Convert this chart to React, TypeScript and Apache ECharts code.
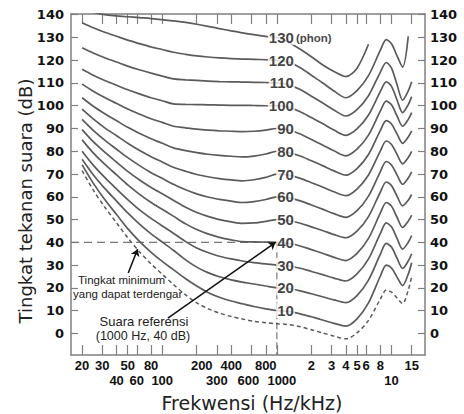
import React, { useEffect, useRef } from 'react';
import * as echarts from 'echarts';

// Frequency grid (Hz) shared by all contours
const FREQ_HZ = [20, 25, 31.5, 40, 50, 63, 80, 100, 125, 160, 200, 250, 315, 400, 500, 630, 800, 1000, 1250, 1600, 2000, 2500, 3150, 4000, 5000, 6300, 8000, 9000, 10000, 11200, 12500, 14000, 15000];

// Sound pressure level (dB) of each equal-loudness contour at FREQ_HZ
const THRESHOLD = [71.5, 63, 55.5, 48.5, 42, 36, 30.5, 26, 21.5, 16.9, 13.4, 10.9, 8.9, 7.4, 6.3, 5.3, 4.7, 4.2, 3.9, 2.9, 1.6, 0.2, -1.2, -2.4, 0.2, 5.7, 15.1, 19, 18.1, 15.5, 13.1, 19, 25];
const PHON_10 = [74, 66, 58.8, 52.2, 46, 40.5, 35.6, 31.6, 28, 24, 20.8, 18, 15.9, 14.2, 13, 11.8, 10.8, 10, 9.7, 8.6, 7.3, 5.9, 4.4, 3.2, 6.4, 13.4, 25.2, 30, 28.7, 24.6, 21, 26, 31];
const PHON_20 = [76.5, 69.7, 63.7, 58.1, 52.9, 48.1, 43.7, 40.1, 36.5, 32.3, 29.1, 26.7, 24.9, 23.5, 22.5, 21.7, 20.8, 20, 19.7, 18.7, 17.4, 16.1, 14.7, 13.5, 16.6, 23.4, 34.8, 39.5, 37.9, 32.9, 28.5, 31.8, 35];
const PHON_30 = [80, 73.9, 68.5, 63.4, 58.8, 54.4, 50.5, 47.2, 44, 40.3, 37.5, 35.5, 33.9, 32.7, 31.8, 31.1, 30.5, 30, 29.7, 28.6, 27.2, 25.8, 24.3, 23, 26.1, 32.7, 43.9, 48.5, 46.8, 41.6, 37, 40, 43];
const PHON_40 = [85, 79.3, 74.3, 69.6, 65.2, 61.2, 57.5, 54.5, 51.5, 48.1, 45.6, 43.7, 42.2, 41.1, 40.3, 40.2, 40.1, 40, 39.6, 38.4, 36.8, 35.2, 33.4, 32, 35.1, 41.7, 52.9, 57.5, 55.9, 50.9, 46.5, 49.3, 52];
const PHON_50 = [89.5, 84.2, 79.6, 75.2, 71.2, 67.5, 64.1, 61.3, 58.5, 55.4, 53.1, 51.4, 50, 49, 48.3, 48.5, 49.2, 50, 49.6, 48.4, 46.8, 45.2, 43.4, 42, 44.9, 51.3, 62.1, 66.5, 64.9, 60.2, 56, 58.5, 61];
const PHON_60 = [94, 89.2, 84.9, 80.9, 77.2, 73.8, 70.6, 68.1, 65.5, 63.1, 61.3, 59.9, 58.9, 58.1, 57.5, 57.9, 58.8, 60, 59.6, 58.2, 56.4, 54.6, 52.6, 51, 53.9, 60.3, 71.1, 75.5, 74, 69.5, 65.5, 68.3, 71];
const PHON_70 = [98.5, 94.2, 90.3, 86.8, 83.5, 80.4, 77.6, 75.3, 73, 71.2, 69.8, 68.8, 68, 67.4, 67, 67.5, 68.5, 70, 69.5, 68.1, 66.2, 64.3, 62.2, 60.5, 63.4, 69.6, 80.2, 84.5, 83, 78.5, 74.5, 77.3, 80];
const PHON_80 = [103.5, 99.8, 96.5, 93.4, 90.5, 87.9, 85.5, 83.5, 81.5, 80.3, 79.4, 78.7, 78.2, 77.8, 77.5, 77.9, 78.8, 80, 79.5, 77.9, 75.8, 73.7, 71.4, 69.5, 72.4, 78.6, 89.2, 93.5, 92, 87.5, 83.5, 86.3, 89];
const PHON_90 = [109.5, 106.4, 103.6, 101, 98.6, 96.4, 94.3, 92.7, 91, 90.3, 89.7, 89.3, 89, 88.8, 88.6, 88.8, 89.3, 90, 89.4, 87.6, 85.2, 82.8, 80.2, 78, 80.9, 87.1, 97.7, 102, 100.4, 95.4, 91, 94, 97];
const PHON_100 = [116, 113.4, 111.1, 109, 107, 105.2, 103.5, 102.2, 100.8, 100.6, 100.5, 100.4, 100.3, 100.2, 100.2, 100.1, 100, 100, 99.4, 97.4, 94.8, 92.2, 89.3, 87, 89.8, 95.9, 106.3, 110.5, 108.5, 102.4, 97, 100.5, 104];
const PHON_110 = [125.5, 123.2, 121.1, 119.2, 117.4, 115.8, 114.3, 113, 111.8, 111.4, 111.1, 110.8, 110.6, 110.5, 110.4, 110.3, 110.2, 110, 109.3, 107.1, 104.2, 101.3, 98.1, 95.5, 98.3, 104.4, 114.8, 119, 116.5, 109.1, 102.5, 106.5, 110.5];
const PHON_120 = [136.5, 134.3, 132.3, 130.5, 128.8, 127.3, 125.8, 124.7, 123.5, 122.6, 121.9, 121.4, 121, 120.7, 120.5, 120.4, 120.2, 120, 119.2, 116.7, 113.4, 110.1, 106.5, 103.5, 106.6, 113.2, 124.4, 129, 127.2, 121.8, 117, 130.5, null];
const PHON_130 = [null, 141, 140, 139.5, 139.1, 138.7, 138.3, 137.8, 137.3, 136.6, 135.8, 134.9, 133.9, 132.9, 132, 131.2, 130.5, 130, 128, 124.8, 121.5, 118, 115, 112.8, 116.5, 127, null, null, null, null, null, null, null];

const PHON_LEVELS = [10, 20, 30, 40, 50, 60, 70, 80, 90, 100, 110, 120, 130];
const CONTOURS = [PHON_10, PHON_20, PHON_30, PHON_40, PHON_50, PHON_60, PHON_70, PHON_80, PHON_90, PHON_100, PHON_110, PHON_120, PHON_130];

// Axis ticks and labels
const X_TICKS_HZ = [20, 30, 40, 50, 60, 80, 100, 200, 300, 400, 600, 800, 1000, 2000, 3000, 4000, 5000, 6000, 8000, 10000, 15000];
const X_LABELS_ROW1 = [20, 30, 50, 80, 200, 400, 800, 2000, 3000, 4000, 5000, 6000, 8000, 15000];
const X_LABELS_ROW2 = [40, 60, 100, 300, 600, 1000, 10000];
const Y_TICKS = [0, 10, 20, 30, 40, 50, 60, 70, 80, 90, 100, 110, 120, 130, 140];
const X_RANGE_HZ = [16, 19600];
const Y_RANGE_DB = [-9.5, 140.3];

// Reference point and annotation arrows (Hz, dB)
const REF_HZ = 1000;
const REF_DB = 40;
const REF_ARROW = [[112, 6.7], [975, 40]];
const MIN_ARROW = [[50.5, 26.5], [61, 37]];

const lg = (v: number) => Math.log10(v);

const fmtHz = (v: number) => {
  const hz = Math.round(Math.pow(10, v));
  if (hz >= 2000) return String(Math.round(hz / 1000));
  return String(hz);
};

const LINE = '#5b5b5b';
const FRAME = '#808080';
const TEXT = '#111';

export default function App() {
  const ref = useRef<HTMLDivElement>(null);

  useEffect(() => {
    const chart = echarts.init(ref.current!, null, { renderer: 'svg' });
    const series: any[] = [];

    series.push({
      type: 'line',
      data: [[lg(X_RANGE_HZ[0]), REF_DB], [lg(REF_HZ), REF_DB]],
      symbol: 'none',
      silent: true,
      z: 1,
      lineStyle: { color: '#777', width: 1.3, type: [8, 5] },
    });
    series.push({
      type: 'line',
      data: [[lg(REF_HZ), REF_DB], [lg(REF_HZ), Y_RANGE_DB[0]]],
      symbol: 'none',
      silent: true,
      z: 1,
      lineStyle: { color: '#777', width: 1.2, type: [7, 3] },
    });

    CONTOURS.forEach((c, i) => {
      const pts: any[] = [];
      FREQ_HZ.forEach((f, j) => {
        if (c[j] !== null) pts.push([lg(f), c[j]]);
      });
      series.push({
        type: 'line',
        name: PHON_LEVELS[i] + ' phon',
        data: pts,
        smooth: 0.3,
        symbol: 'none',
        z: 2,
        lineStyle: { color: LINE, width: 1.7 },
      });
    });

    series.push({
      type: 'line',
      name: 'threshold',
      data: FREQ_HZ.map((f, j) => [lg(f), THRESHOLD[j]]),
      smooth: 0.3,
      symbol: 'none',
      z: 2,
      lineStyle: { color: LINE, width: 1.5, type: [4, 3] },
    });

    const labelFont = 'Liberation Sans';
    series.push({
      type: 'scatter',
      symbolSize: 0,
      z: 5,
      silent: true,
      data: PHON_LEVELS.map((p) =>
        p === 130
          ? {
              value: [lg(REF_HZ), p],
              label: {
                align: 'left',
                offset: [-9, 0],
                backgroundColor: 'transparent',
                padding: 0,
                formatter: '{a|130}{b|(phon)}',
                rich: {
                  a: { fontFamily: labelFont, fontSize: 15, fontWeight: 'bold', color: TEXT, backgroundColor: '#fff', padding: [0, 1] },
                  b: { fontFamily: labelFont, fontSize: 11.5, color: TEXT, padding: [1, 0, 0, 1] },
                },
              },
            }
          : { value: [lg(REF_HZ), p] }
      ),
      label: {
        show: true,
        position: 'inside',
        align: 'right',
        verticalAlign: 'middle',
        offset: [18, 0],
        fontFamily: labelFont,
        fontSize: 15,
        fontWeight: 'bold',
        color: TEXT,
        backgroundColor: '#fff',
        padding: [0, 1],
        formatter: (p: any) => String(p.value[1]),
      },
    });

    series.push({
      type: 'lines',
      coordinateSystem: 'cartesian2d',
      z: 6,
      silent: true,
      symbol: ['none', 'arrow'],
      symbolSize: 7,
      lineStyle: { color: '#111', width: 1.5, curveness: 0, opacity: 1 },
      data: [
        { coords: REF_ARROW.map(([f, d]) => [lg(f), d]) },
        { coords: MIN_ARROW.map(([f, d]) => [lg(f), d]) },
      ],
    });

    const xCommon = {
      type: 'value',
      min: lg(X_RANGE_HZ[0]),
      max: lg(X_RANGE_HZ[1]),
      splitLine: { show: false },
    };
    const xFont = { fontFamily: 'Liberation Sans', fontWeight: 'bold', fontSize: 13, color: TEXT };
    const xLabel = {
      ...xFont,
      formatter: (v: number) => {
        const t = fmtHz(v);
        if (t === '600') return '{l|600}';
        if (t === '1000') return '{r|1000}';
        if (t === '200') return '{r|200}';
        return t;
      },
      rich: {
        l: { ...xFont, padding: [0, 6, 0, 0] },
        r: { ...xFont, padding: [0, 0, 0, 10] },
      },
    };
    const yCommon = {
      type: 'value',
      min: Y_RANGE_DB[0],
      max: Y_RANGE_DB[1],
      splitLine: { show: false },
      axisLine: { show: true, onZero: false, lineStyle: { color: FRAME, width: 1.5 } },
      axisTick: { show: true, inside: true, length: 7, customValues: Y_TICKS, lineStyle: { color: FRAME, width: 1.2 } },
    };
    const yLabel = {
      customValues: Y_TICKS,
      fontFamily: 'DejaVu Sans',
      fontWeight: 'bold',
      fontSize: 13,
      color: TEXT,
    };

    chart.setOption({
      animation: false,
      backgroundColor: '#fff',
      grid: { left: 71, right: 39, top: 14, bottom: 59, containLabel: false },
      xAxis: [
        {
          ...xCommon,
          position: 'bottom',
          axisLine: { show: true, onZero: false, lineStyle: { color: FRAME, width: 1.5 } },
          axisTick: { show: true, inside: true, length: 10, customValues: X_TICKS_HZ.map(lg), lineStyle: { color: FRAME, width: 1.2 } },
          axisLabel: { ...xLabel, customValues: X_LABELS_ROW1.map(lg), margin: 4 },
        },
        {
          ...xCommon,
          position: 'bottom',
          axisLine: { show: false, onZero: false },
          axisTick: { show: false },
          axisLabel: { ...xLabel, customValues: X_LABELS_ROW2.map(lg), margin: 19 },
        },
        {
          ...xCommon,
          position: 'top',
          axisLine: { show: true, onZero: false, lineStyle: { color: FRAME, width: 1.5 } },
          axisTick: { show: true, inside: true, length: 10, customValues: X_TICKS_HZ.map(lg), lineStyle: { color: FRAME, width: 1.2 } },
          axisLabel: { show: false },
        },
      ],
      yAxis: [
        { ...yCommon, position: 'left', axisLabel: { ...yLabel, margin: 7 } },
        { ...yCommon, position: 'right', axisLabel: { ...yLabel, margin: 5 } },
      ],
      graphic: [
        {
          type: 'text',
          x: 25,
          y: 201,
          rotation: Math.PI / 2,
          style: { text: 'Tingkat tekanan suara (dB)', font: '18px "DejaVu Sans"', fill: '#222', align: 'center', verticalAlign: 'middle' },
        },
        {
          type: 'text',
          x: 252,
          y: 403,
          style: { text: 'Frekwensi (Hz/kHz)', font: '19px "DejaVu Sans"', fill: '#222', align: 'center', verticalAlign: 'middle' },
        },
        {
          type: 'text',
          x: 78,
          y: 280,
          style: { text: 'Tingkat minimum', font: '11.5px "Liberation Sans"', fill: '#222', align: 'left', verticalAlign: 'middle' },
        },
        {
          type: 'text',
          x: 73,
          y: 294,
          style: { text: 'yang dapat terdengar', font: '11.5px "Liberation Sans"', fill: '#222', align: 'left', verticalAlign: 'middle' },
        },
        {
          type: 'text',
          x: 144,
          y: 321,
          style: { text: 'Suara referensi', font: '13px "Liberation Sans"', fill: '#222', align: 'center', verticalAlign: 'middle' },
        },
        {
          type: 'text',
          x: 143,
          y: 336,
          style: { text: '(1000 Hz, 40 dB)', font: '12.5px "Liberation Sans"', fill: '#222', align: 'center', verticalAlign: 'middle' },
        },
      ],
      series,
    });

    return () => chart.dispose();
  }, []);

  return (
    <div
      ref={ref}
      style={{ position: 'fixed', left: 0, top: 0, width: 464, height: 414, background: '#fff' }}
    />
  );
}
